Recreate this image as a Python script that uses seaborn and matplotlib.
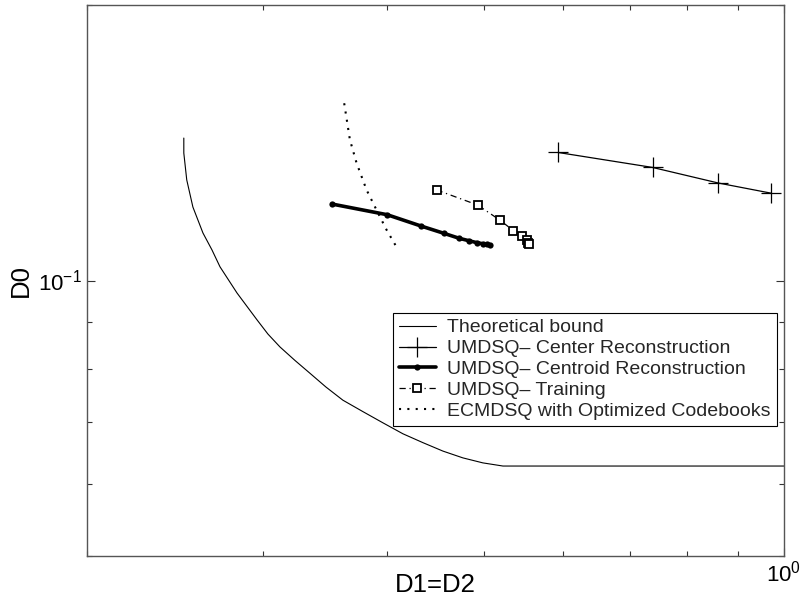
import matplotlib
matplotlib.use("Agg")
import matplotlib.pyplot as plt
import matplotlib.ticker as mticker
import seaborn as sns

# values (log-log axes)
bound_x = [0.2501, 0.2501, 0.2518, 0.2554, 0.2614, 0.2669, 0.2719, 0.2828, 0.2961, 0.3037,
           0.3123, 0.3232, 0.3346, 0.3472, 0.3611, 0.3782, 0.3961, 0.4148, 0.4344, 0.4550,
           0.4764, 0.4989, 0.5226, 1.0]
bound_y = [0.1431, 0.1378, 0.1288, 0.1203, 0.1127, 0.1080, 0.1035, 0.0969, 0.0906, 0.0874,
           0.0846, 0.0818, 0.0792, 0.0765, 0.0740, 0.0719, 0.0699, 0.0680, 0.0665, 0.0651,
           0.0640, 0.0632, 0.0627, 0.0627]

center_x = [0.5937, 0.7383, 0.8592, 0.9696]
center_y = [0.1380, 0.1329, 0.1278, 0.1246]

centroid_x = [0.3523, 0.4000, 0.4324, 0.4560, 0.4724, 0.4835, 0.4918, 0.4986, 0.5032, 0.5071]
centroid_y = [0.1212, 0.1180, 0.1147, 0.1126, 0.1112, 0.1105, 0.1100, 0.1097, 0.1095, 0.1094]

train_x = [0.4483, 0.4930, 0.5189, 0.5352, 0.5456, 0.5520, 0.5541, 0.5554]
train_y = [0.1256, 0.1209, 0.1164, 0.1134, 0.1119, 0.1107, 0.1100, 0.1096]

ecm_x = [0.3622, 0.3670, 0.3727, 0.3814, 0.3903, 0.3994, 0.4081]
ecm_y = [0.1562, 0.1425, 0.1344, 0.1256, 0.1194, 0.1136, 0.1091]

labels = ['Theoretical bound',
          'UMDSQ\u2013 Center Reconstruction',
          'UMDSQ\u2013 Centroid Reconstruction',
          'UMDSQ\u2013 Training',
          'ECMDSQ with Optimized Codebooks']

sns.set_theme(style="white")
plt.rcParams['font.family'] = ['Liberation Sans', 'DejaVu Sans']
plt.rcParams['mathtext.default'] = 'regular'

fig = plt.figure(figsize=(8.01, 6.02), dpi=100)
ax = fig.add_axes([87 / 801, 46 / 602, 697 / 801, 551 / 602])
ax.set_xscale('log')
ax.set_yscale('log')

common = dict(ax=ax, sort=False, estimator=None, color='black')
sns.lineplot(x=bound_x, y=bound_y, lw=0.8, label=labels[0], **common)
sns.lineplot(x=center_x, y=center_y, lw=0.9, marker='+', markersize=14,
             markeredgewidth=0.9, markeredgecolor='black', label=labels[1], **common)
sns.lineplot(x=centroid_x, y=centroid_y, lw=2.6, marker='o', markersize=4.5,
             markeredgewidth=0, markerfacecolor='black', label=labels[2], **common)
sns.lineplot(x=train_x, y=train_y, lw=0.9, linestyle=(0, (5, 3, 1, 3)), marker='s',
             markersize=5.5, markerfacecolor='white', markeredgecolor='black',
             markeredgewidth=1.3, label=labels[3], **common)
sns.lineplot(x=ecm_x, y=ecm_y, lw=1.5, linestyle=(0, (1, 3)), label=labels[4], **common)

ax.set_xlim(0.2, 1.0)
ax.set_ylim(0.05, 0.2)
ax.xaxis.set_minor_formatter(mticker.NullFormatter())
ax.yaxis.set_minor_formatter(mticker.NullFormatter())

for sp in ax.spines.values():
    sp.set_color('#555555')
    sp.set_linewidth(1.0)
ax.tick_params(which='both', direction='in', top=True, right=True, bottom=True, left=True,
               color='#333333', width=0.8, labelsize=16, labelcolor='black')
ax.tick_params(which='major', length=6)
ax.tick_params(which='minor', length=3.5)

ax.set_xlabel('D1=D2', fontsize=18.5, color='black')
ax.set_ylabel('D0', fontsize=18.5, color='black')
ax.xaxis.set_label_coords(0.5, -0.03)

leg = ax.legend(loc='upper left', bbox_to_anchor=(0.439, 0.441), borderaxespad=0,
                fancybox=False, edgecolor='black', framealpha=1, fontsize=14,
                handlelength=1.9, labelspacing=0.17, borderpad=0.3, handletextpad=0.6)
leg.get_frame().set_linewidth(0.8)

fig.savefig('out.png', dpi=100)
